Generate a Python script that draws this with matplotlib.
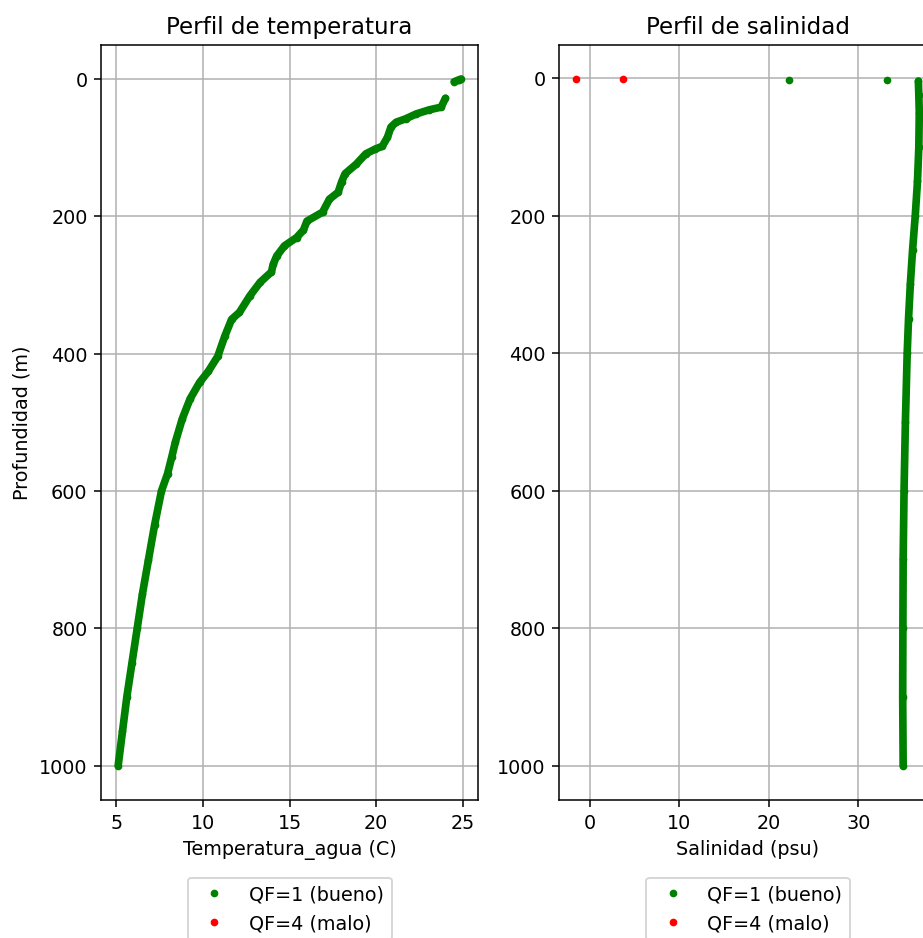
import numpy as np
import matplotlib
matplotlib.use("Agg")
import matplotlib.pyplot as plt

nan = np.nan

# Temperature profile (QF=1), NaN marks the gap below the surface readings
prof_temp = [0, 1, 2, 4, nan,
             28, 41, 45, 51, 58, 63, 70, 85, 98, 102, 109, 124, 138, 150,
             165, 175, 194, 207, 220, 231, 243, 258, 270, 281, 296, 316,
             340, 350, 375, 404, 426, 442, 466, 495, 529, 550, 575, 600,
             650, 700, 750, 800, 850, 900, 950, 1000]
temp_good = [24.9, 24.8, 24.7, 24.5, nan,
             24.0, 23.75, 23.05, 22.3, 21.7, 21.15, 20.85, 20.65, 20.35,
             19.95, 19.4, 18.85, 18.2, 18.0, 17.8, 17.3, 16.9, 16.0, 15.8,
             15.4, 14.7, 14.25, 14.05, 13.95, 13.3, 12.7, 12.1, 11.65, 11.25,
             10.85, 10.3, 9.8, 9.25, 8.8, 8.4, 8.2, 7.95, 7.6, 7.2, 6.85,
             6.5, 6.2, 5.9, 5.6, 5.35, 5.1]
prof_temp_bad = []
temp_bad = []

# Salinity profile
prof_sal_surf = [3, 3]
sal_surf_good = [22.3, 33.2]
prof_sal = [4, 25, 50, 100, 150, 200, 250, 300, 350, 400, 500, 600, 700,
            800, 900, 1000]
sal_good = [36.7, 36.75, 36.8, 36.75, 36.6, 36.35, 36.05, 35.8, 35.6,
            35.45, 35.25, 35.1, 35.0, 34.97, 34.95, 35.0]
prof_sal_bad = [1, 1]
sal_bad = [-1.5, 3.7]

fig = plt.figure(figsize=(923.4 / 138, 938.4 / 138), dpi=138)
ax1 = fig.add_axes([0.1094, 0.1471, 0.4085, 0.8049])
ax2 = fig.add_axes([0.6056, 0.1471, 0.4085, 0.8049])

# Temperature
ax1.plot(temp_good, prof_temp, color="green", lw=4,
         solid_capstyle="round", solid_joinstyle="round")
ax1.plot(temp_good, prof_temp, "g.", label="QF=1 (bueno)")
ax1.plot(temp_bad, prof_temp_bad, "r.", label="QF=4 (malo)")
ax1.invert_yaxis()
ax1.set_title("Perfil de temperatura")
ax1.set_xlabel("Temperatura_agua (C)")
ax1.set_ylabel("Profundidad (m)")
ax1.grid(True)
ax1.legend(loc="upper center", bbox_to_anchor=(0.5, -0.09))

# Salinity
ax2.plot(sal_good, prof_sal, color="green", lw=4,
         solid_capstyle="round", solid_joinstyle="round")
ax2.plot(sal_surf_good + sal_good, prof_sal_surf + prof_sal, "g.",
         label="QF=1 (bueno)")
ax2.plot(sal_bad, prof_sal_bad, "r.", label="QF=4 (malo)")
ax2.invert_yaxis()
ax2.set_title("Perfil de salinidad")
ax2.set_xlabel("Salinidad (psu)")
ax2.grid(True)
ax2.legend(loc="upper center", bbox_to_anchor=(0.5, -0.09))

fig.savefig("out.png", dpi=138)
